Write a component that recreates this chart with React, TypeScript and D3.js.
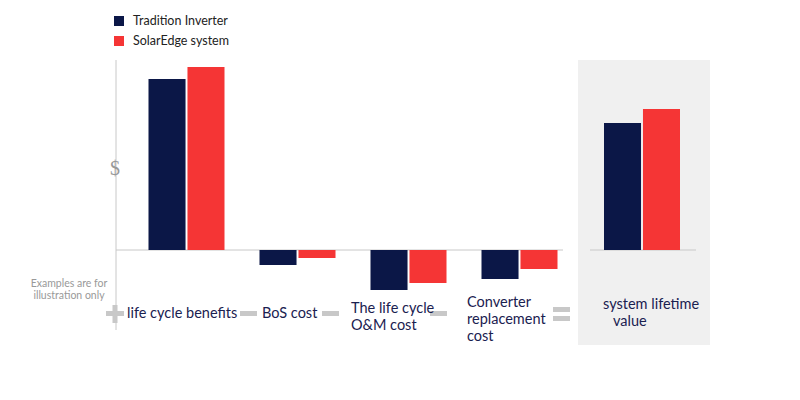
import React from 'react';
import * as d3 from 'd3';

const categories = ['life cycle benefits', 'BoS cost', 'The life cycle O&M cost', 'Converter replacement cost'];
const traditionValues = [171, -15, -40, -29];
const solarEdgeValues = [183, -8, -33, -19];
const totalCategory = 'system lifetime value';
const totalTradition = 127;
const totalSolarEdge = 141;
const seriesNames = ['Tradition Inverter', 'SolarEdge system'];

const NAVY = '#0b1747';
const RED = '#f53535';
const GREY = '#c8c8c8';
const FONT = 'Lato, sans-serif';

const labelLines: string[][] = [
  ['life cycle benefits'],
  ['BoS cost'],
  ['The life cycle', 'O&M cost'],
  ['Converter', 'replacement', 'cost'],
];

export default function App() {
  const y = d3.scaleLinear().domain([-100, 200]).range([350, 50]);
  const x = d3.scaleBand<string>().domain(categories).range([131, 575]);
  const sub = d3.scaleBand<number>().domain([0, 1]).range([0, 76]).paddingInner(0.05);
  const xPanel = d3.scaleBand<string>().domain([totalCategory]).range([586, 698]);
  const zero = y(0);

  const bar = (x0: number, v: number, color: string, key: string) => (
    <rect key={key} x={x0} width={sub.bandwidth()} y={Math.min(y(v), zero)} height={Math.abs(y(v) - zero)} fill={color} />
  );

  return (
    <svg width={800} height={400} style={{ position: 'absolute', left: 0, top: 0, background: '#fff' }}>
      {/* legend */}
      {seriesNames.map((n, i) => (
        <g key={n} transform={`translate(114,${20 + i * 20})`}>
          <rect width={10} height={10} y={-4} fill={i ? RED : NAVY} />
          <text x={19} y={5} fontFamily={FONT} fontSize={12.5} fill="#222">{n}</text>
        </g>
      ))}
      {/* grey panel */}
      <rect x={578} y={60} width={132} height={285} fill="#f0f0f0" />
      {/* axes */}
      <line x1={116} x2={116} y1={60} y2={330} stroke="#c8c8c8" strokeWidth={1} />
      <line x1={116} x2={563} y1={zero} y2={zero} stroke="#c8c8c8" strokeWidth={1} />
      <line x1={590} x2={696} y1={zero} y2={zero} stroke="#c8c8c8" strokeWidth={1} />
      <text x={115} y={175} textAnchor="middle" fontFamily="'Liberation Serif', serif" fontSize={20} fill="#999">$</text>
      {categories.map((c, i) => {
        const cx = x(c)!;
        const pad = (x.bandwidth() - 76) / 2;
        return (
          <g key={c}>
            {bar(cx + pad + sub(0)!, traditionValues[i], NAVY, 'n')}
            {bar(cx + pad + sub(1)!, solarEdgeValues[i], RED, 'r')}
          </g>
        );
      })}
      {(() => {
        const px = xPanel(totalCategory)!;
        const pad = (xPanel.bandwidth() - 76) / 2;
        return (
          <g>
            {bar(px + pad + sub(0)!, totalTradition, NAVY, 'tn')}
            {bar(px + pad + sub(1)!, totalSolarEdge, RED, 'tr')}
          </g>
        );
      })()}
      {/* note */}
      <text x={69} y={287} textAnchor="middle" fontFamily={FONT} fontSize={10.5} fill="#999">
        <tspan x={69} dy={0}>Examples are for</tspan>
        <tspan x={69} dy={12}>illustration only</tspan>
      </text>
      {/* operators */}
      <rect x={106} y={311} width={18} height={5} fill={GREY} />
      <rect x={112.5} y={305} width={5} height={18} fill={GREY} />
      {[240, 322, 430].map((ox) => (
        <rect key={ox} x={ox} y={311} width={17} height={5} fill={GREY} />
      ))}
      <rect x={553} y={307} width={17} height={5} fill={GREY} />
      <rect x={553} y={316} width={17} height={5} fill={GREY} />
      {/* category labels */}
      {[[127, 318], [262, 318], [351, 313], [467, 313]].map(([lx, ly], i) => (
        <text key={i} fontFamily={FONT} fontSize={14.5} fill="#1a2150">
          {labelLines[i].map((l, j) => (
            <tspan key={j} x={lx} y={ly + (labelLines[i].length === 3 ? -6 : 0) + j * 17}>{l}</tspan>
          ))}
        </text>
      ))}
      <text fontFamily={FONT} fontSize={14.5} fill="#1a2150">
        <tspan x={603} y={309}>system lifetime</tspan>
        <tspan x={613} y={326}>value</tspan>
      </text>
    </svg>
  );
}
